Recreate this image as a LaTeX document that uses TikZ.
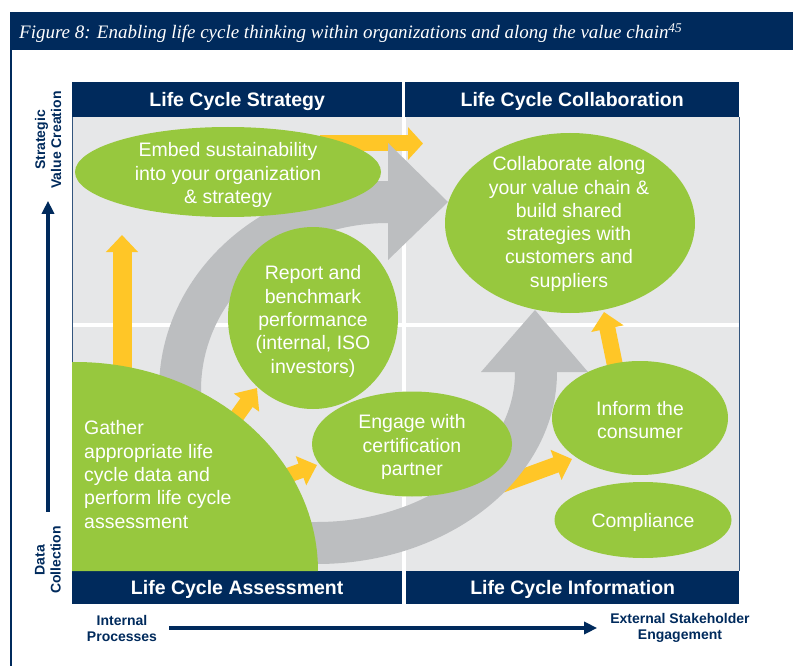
\documentclass[tikz,border=0pt]{standalone}
\usepackage{fontspec}
\usepackage{graphicx}
\setmainfont{Liberation Sans}
\newfontfamily\titlefont{Liberation Serif}
\usetikzlibrary{arrows.meta,shapes.geometric}
\definecolor{navy}{RGB}{0,42,92}
\definecolor{panelgray}{RGB}{230,231,232}
\definecolor{arrowgray}{RGB}{188,190,192}
\definecolor{lcgreen}{RGB}{151,200,62}
\definecolor{lcyellow}{RGB}{255,198,39}
\begin{document}
\begin{tikzpicture}[x=1pt,y=1pt,
  bubble/.style={ellipse, fill=lcgreen, inner sep=0pt},
  btext/.style={text=white, inner sep=0pt, align=center,
    font=\fontsize{19.5}{23.3}\selectfont},
  hdr/.style={rectangle, fill=navy, text=white, inner sep=0pt, anchor=north west,
    text height=14pt, text depth=0pt,
    font=\bfseries\fontsize{19.5}{23}\selectfont},
  yarrow/.style={draw=lcyellow, line width=16, -{Triangle[width=31pt,length=17pt]}},
  axlabel/.style={text=navy, inner sep=0pt, align=center,
    font=\bfseries\fontsize{14}{16}\selectfont},
  axarrow/.style={draw=navy, line width=4, -{Triangle[width=12pt,length=13pt]}},
  grayarrow/.style={fill=arrowgray},
  divider/.style={draw=white, line width=3.5}]
\useasboundingbox (0,0) rectangle (793,-666);
% title bar and frame
\fill[navy] (10,-12) rectangle (793,-50);
\node[anchor=base west, text=white, inner sep=0pt] (title) at (19,-39)
  {\resizebox{663pt}{\height}{\titlefont\itshape\fontsize{19}{21}\selectfont Figure 8: Enabling life cycle thinking within organizations and along the value chain\textsuperscript{45}}};
\draw[navy, line width=2.5] (11,-50) -- (11,-666);
% panel
\fill[panelgray] (72,-117) rectangle (739,-571);
\draw[divider] (404,-117) -- (404,-571);
\draw[divider] (72,-325) -- (739,-325);
\draw[navy!80, line width=1] (72,-82) -- (72,-604);
\draw[navy!80, line width=1] (739,-117) -- (739,-571);
% headers
\node[hdr, minimum width=330, minimum height=35] (hstrat) at (72,-82) {Life Cycle Strategy};
\node[hdr, minimum width=334, minimum height=35] (hcollab) at (405,-82) {Life Cycle Collaboration};
\node[hdr, minimum width=330, minimum height=33] (hassess) at (72,-571) {Life Cycle Assessment};
\node[hdr, minimum width=333, minimum height=33] (hinfo) at (406,-571) {Life Cycle Information};
% yellow arrows
\coordinate (yas) at (122,-380); \coordinate (yae) at (122,-235);
\coordinate (ybs) at (320,-143.5); \coordinate (ybe) at (423,-143.5);
\coordinate (ycs) at (222,-437); \coordinate (yce) at (257,-388);
\coordinate (yds) at (264,-484); \coordinate (yde) at (317,-465);
\coordinate (yes) at (460,-500); \coordinate (yee) at (572,-459);
\coordinate (yfs) at (618,-380); \coordinate (yfe) at (604,-312);
\draw[yarrow, line width=19] (yas) -- (yae);
\draw[yarrow, -{Triangle[width=32pt,length=15pt]}] (ybs) -- (ybe);
\draw[yarrow, line width=15, -{Triangle[width=30pt,length=18pt]}] (ycs) -- (yce);
\draw[yarrow, line width=15, -{Triangle[width=30pt,length=17pt]}] (yds) -- (yde);
\draw[yarrow] (yes) -- (yee);
\draw[yarrow, -{Triangle[width=32pt,length=17pt]}] (yfs) -- (yfe);
% gray arrows
\fill[grayarrow] (159,-430) -- (159,-390)
  arc[start angle=180, end angle=90, x radius=229, y radius=209]
  -- (388,-143) -- (448,-202) -- (388,-260) -- (388,-223)
  arc[start angle=90, end angle=180, x radius=187, y radius=167]
  -- (201,-430) -- cycle;
\fill[grayarrow] (285,-564) -- (317,-564)
  arc[start angle=270, end angle=360, x radius=240, y radius=192]
  -- (588,-372) -- (535,-310) -- (481,-372) -- (515,-372)
  arc[start angle=360, end angle=270, x radius=198, y radius=150]
  -- (285,-522) -- cycle;
% green bubbles
\node[bubble, minimum width=306, minimum height=90] (embed) at (228,-172) {};
\node[btext] (embedtext) at ([yshift=-3]embed.center)
  {Embed sustainability\\into your organization\\\& strategy};
\node[bubble, minimum width=250, minimum height=180] (collab) at (570,-223) {};
\node[btext] (collabtext) at ([xshift=-1,yshift=-1]collab.center)
  {Collaborate along\\your value chain \&\\build shared\\strategies with\\customers and\\suppliers};
\node[bubble, minimum width=170, minimum height=182] (report) at (313,-318) {};
\node[btext] (reporttext) at ([yshift=-3.5]report.center)
  {Report and\\benchmark\\performance\\(internal, ISO\\investors)};
\node[bubble, minimum width=200, minimum height=105] (engage) at (412,-444) {};
\node[btext] (engagetext) at ([yshift=-3]engage.center)
  {Engage with\\certification\\partner};
\node[bubble, minimum width=176, minimum height=114] (inform) at (640,-418) {};
\node[btext] (informtext) at ([yshift=-2]inform.center)
  {Inform the\\consumer};
\node[bubble, minimum width=177, minimum height=76] (compl) at (643,-520) {};
\node[btext] (compltext) at ([yshift=-2.5]compl.center) {Compliance};
% gather quarter shape
\fill[lcgreen] (72,-571) -- (318,-571)
  arc[start angle=0, end angle=90, x radius=243, y radius=209]
  -- (72,-362) -- cycle;
\node[btext, anchor=west, align=left] (gather) at (84,-474.5)
  {Gather\\appropriate life\\cycle data and\\perform life cycle\\assessment};
% axes
\node[axlabel, rotate=90] (svc) at (48,-140) {Strategic\\Value Creation};
\node[axlabel, rotate=90] (dc) at (48,-560) {Data\\Collection};
\draw[axarrow] ([yshift=14]dc.east) -- ([yshift=-12]svc.west);
\node[axlabel] (ip) at (122,-628) {Internal\\Processes};
\node[axlabel] (ese) at (680,-628) {External Stakeholder\\Engagement};
\draw[axarrow] ([xshift=12]ip.east) -- ([xshift=-13]ese.west);
\end{tikzpicture}
\end{document}
